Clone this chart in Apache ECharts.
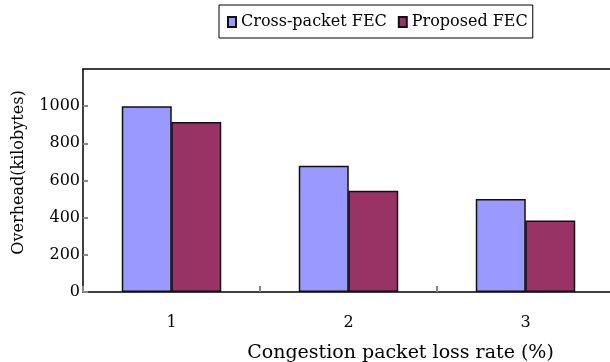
<!DOCTYPE html>
<html>
<head>
<meta charset="utf-8">
<script src="https://cdn.jsdelivr.net/npm/echarts@6/dist/echarts.min.js"></script>
<style>
  html, body { margin: 0; padding: 0; background: #fff; }
  #chart { width: 610px; height: 362px; }
</style>
</head>
<body>
<div id="chart"></div>
<script>
// 数据
var categories = ['1', '2', '3'];
var crossPacket = [1000, 680, 500];
var proposed = [915, 545, 385];
var yTicks = [0, 200, 400, 600, 800, 1000];

var font = 'DejaVu Serif';
var myChart = echarts.init(document.getElementById('chart'));

var option = {
    animation: false,
    legend: {
        data: ['Cross-packet FEC', 'Proposed FEC'],
        left: 219,
        top: 5,
        padding: [9, 5, 8, 8],
        itemGap: 11,
        itemWidth: 8,
        itemHeight: 10,
        borderColor: '#000',
        borderWidth: 1,
        icon: 'rect',
        textStyle: { fontFamily: font, fontSize: 16, color: '#000' }
    },
    // 绘图区右边界在画面外
    grid: {
        left: 83, top: 69, width: 531, bottom: 70,
        outerBoundsMode: 'none'
    },
    xAxis: [
        {
            type: 'category',
            data: categories,
            axisLine: { show: true, lineStyle: { color: '#000', width: 1.5 } },
            axisTick: { show: true, inside: true, length: 6, lineStyle: { color: '#888', width: 2 } },
            axisLabel: { fontFamily: font, fontSize: 16, color: '#000', margin: 23 },
            name: 'Congestion packet loss rate (%)',
            nameLocation: 'middle',
            nameGap: 52,
            nameTextStyle: { fontFamily: font, fontSize: 19, color: '#000', padding: [0, 0, 0, 104] }
        },
        {
            // 顶部边框
            type: 'category',
            position: 'top',
            data: categories,
            axisLine: { show: true, lineStyle: { color: '#000', width: 1.5 } },
            axisTick: { show: false },
            axisLabel: { show: false }
        }
    ],
    yAxis: {
        type: 'value',
        min: 0,
        max: 1200,
        interval: 200,
        axisLine: { show: true, lineStyle: { color: '#000', width: 1.5 } },
        axisTick: { show: true, inside: true, length: 5, customValues: yTicks, lineStyle: { color: '#888', width: 2 } },
        splitLine: { show: false },
        axisLabel: {
            fontFamily: font, fontSize: 16, color: '#000', margin: 3, customValues: yTicks,
            formatter: function (v) { return String(v); }
        },
        name: 'Overhead(kilobytes)',
        nameLocation: 'middle',
        nameGap: 56,
        nameTextStyle: { fontFamily: font, fontSize: 16, color: '#000', padding: [0, 0, 0, 16] }
    },
    series: [
        {
            name: 'Cross-packet FEC',
            type: 'bar',
            data: crossPacket,
            barWidth: 50,
            barGap: '-1%',
            itemStyle: { color: '#9999FF', borderColor: '#111', borderWidth: 1.5 }
        },
        {
            name: 'Proposed FEC',
            type: 'bar',
            data: proposed,
            barWidth: 50,
            barGap: '-1%',
            itemStyle: { color: '#993366', borderColor: '#111', borderWidth: 1.5 }
        }
    ]
};

myChart.setOption(option);
</script>
</body>
</html>
